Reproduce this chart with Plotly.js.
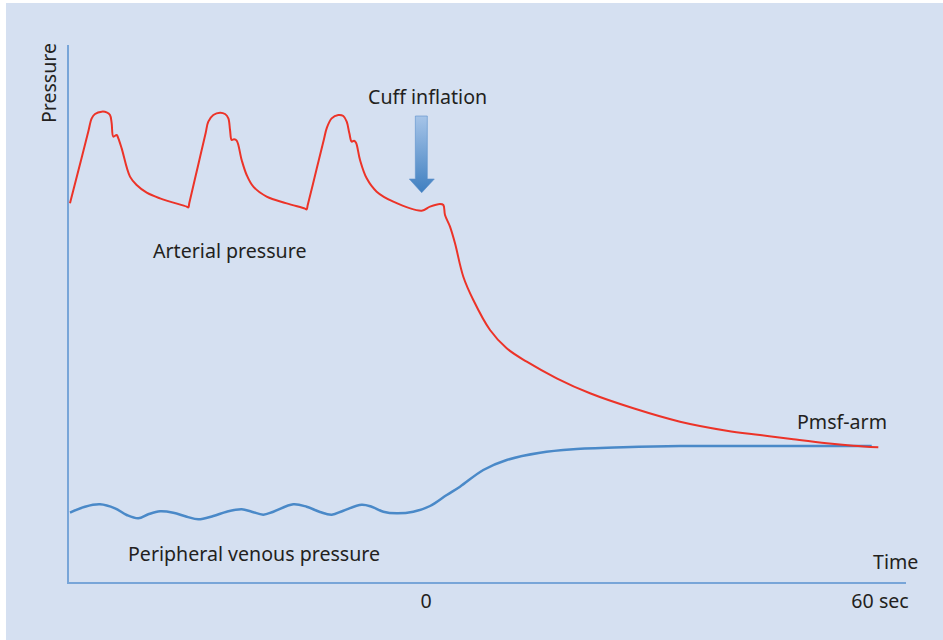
<!DOCTYPE html>
<html>
<head>
<meta charset="utf-8">
<script src="https://cdn.plot.ly/plotly-3.0.1.min.js"></script>
<style>html,body{margin:0;padding:0;background:#fff;}#chart{width:943px;height:640px;}</style>
</head>
<body>
<div id="chart"></div>
<script>
// Time (s) relative to cuff inflation, pressure in arbitrary units
var arterialTime = [
  -47.05,-45.61,-44.62,-44.18,-43.74,-42.86,-42.20,-41.76,-41.54,-41.32,-40.88,-40.66,-40.22,-39.12,-38.24,-36.91,-35.15,-31.63,-31.41,
  -31.28,-30.09,-29.12,-28.77,-28.11,-27.22,-26.56,-26.12,-25.90,-25.68,-25.37,-25.02,-24.36,-23.70,-22.82,-21.06,-18.41,-15.99,-15.77,
  -15.64,-14.45,-13.48,-13.13,-12.47,-11.59,-10.93,-10.48,-10.13,-9.82,-9.51,-9.25,-8.72,-7.84,-6.52,-4.32,-0.57,
  0.53,1.85,2.29,2.51,3.17,3.83,4.93,6.25,8.46,10.66,13.31,17.27,21.67,27.4,33.57,39.74,44.14,48.54,52.95,56.47,59.77];
var arterialPressure = [
  75.73,84.23,90.13,92.73,93.6,94.07,93.93,93.4,91.73,89.07,89.4,88.73,86.73,81.07,79.4,77.87,76.73,75.07,74.93,
  75.8,83.5,89.8,92.07,93.4,93.87,93.6,92.73,90.4,88.4,88.53,88.27,84.4,81.4,79.07,77.07,75.73,74.67,74.53,
  75.33,82.63,88.6,90.73,92.73,93.4,93.2,92.07,89.73,88.07,88.27,87.87,84.4,80.73,78.07,76.07,74.27,
  75.07,75.6,75.4,73.4,71.06,67.74,61.06,56.4,50.4,46.74,44.06,40.74,37.74,34.74,32.06,30.26,29.4,28.54,27.74,27.26,26.94];
var venousTime = [-47.05,-45.07,-43.08,-41.1,-39.55,-38.02,-36.7,-35.15,-33.4,-31.62,-30.09,-28.11,-26.34,-24.36,-23.03,-21.5,-20.18,
  -17.54,-15.77,-14.01,-12.46,-10.93,-8.5,-7.18,-5.64,-3.87,-1.68,0.53,2.74,4.49,7.57,10.66,15.07,19.47,26.07,33.57,45.6,58.9];
var venousPressure = [13.86,15.06,15.54,14.74,13.4,12.74,13.54,14.14,13.86,13.06,12.54,13.2,14.06,14.54,14.06,13.46,14.06,
  15.54,15.06,14.0,13.46,14.26,15.46,15.06,14.06,13.74,14.06,15.2,17.4,19.06,22.4,24.4,25.86,26.54,26.94,27.2,27.2,27.2];
var tickValues = [0, 60];
var tickLabels = ['0', '60 sec'];
// Cuff-inflation arrow outline (annotation decoration)
var cuffArrowX = [-1.41, 0.17, 0.17, 1.10, -0.57, -2.21, -1.41, -1.41];
var cuffArrowY = [93.2, 93.2, 80.6, 80.6, 77.86, 80.6, 80.6, 93.2];

var textFont = {family: 'Noto Sans, sans-serif', size: 19.6, color: '#231f20'};

var traces = [
  {x: venousTime, y: venousPressure, type: 'scatter', mode: 'lines',
   line: {color: '#4a89c8', width: 2.5, shape: 'spline', smoothing: 1}, hoverinfo: 'skip'},
  {x: arterialTime, y: arterialPressure, type: 'scatter', mode: 'lines',
   line: {color: '#ec3328', width: 2, shape: 'spline', smoothing: 1}, hoverinfo: 'skip'},
  {x: cuffArrowX, y: cuffArrowY, type: 'scatter', mode: 'lines', fill: 'toself',
   fillgradient: {type: 'vertical', colorscale: [[0, '#3f7fc0'], [1, '#a6c4e8']]},
   line: {color: '#5a8fcb', width: 0.6}, hoverinfo: 'skip'}
];

var layout = {
  width: 943, height: 640,
  margin: {l: 69, r: 37, t: 45, b: 58},
  paper_bgcolor: '#d5e0f1', plot_bgcolor: '#d5e0f1',
  showlegend: false,
  font: textFont,
  xaxis: {range: [-47.18, 63.43], showgrid: false, zeroline: false, showline: true,
    linecolor: '#78a5d8', linewidth: 2, ticks: '', tickvals: tickValues, ticktext: tickLabels,
    tickfont: textFont, fixedrange: true},
  yaxis: {range: [0, 107.4], showgrid: false, zeroline: false, showline: true,
    linecolor: '#78a5d8', linewidth: 2, ticks: '', showticklabels: false, fixedrange: true},
  shapes: [
    {type: 'rect', xref: 'paper', yref: 'paper', x0: -0.0824, x1: -0.0753, y0: -0.108, y1: 1.0838,
     fillcolor: '#ffffff', line: {width: 0}, layer: 'below'},
    {type: 'rect', xref: 'paper', yref: 'paper', x0: -0.0824, x1: 1.05, y0: 1.0782, y1: 1.0838,
     fillcolor: '#ffffff', line: {width: 0}, layer: 'below'}
  ],
  annotations: [
    {text: 'Cuff inflation', x: 0.26, y: 97.2, xref: 'x', yref: 'y', showarrow: false, font: textFont},
    {text: 'Arterial pressure', x: -26.03, y: 66.4, xref: 'x', yref: 'y', showarrow: false, font: textFont},
    {text: 'Peripheral venous pressure', x: -22.73, y: 5.8, xref: 'x', yref: 'y', showarrow: false, font: textFont},
    {text: 'Pmsf-arm', x: 55.0, y: 32.1, xref: 'x', yref: 'y', showarrow: false, font: textFont},
    {text: 'Time', x: 0.987, y: 0.039, xref: 'paper', yref: 'paper', xanchor: 'center', yanchor: 'middle', showarrow: false, font: textFont},
    {text: 'Pressure', x: -0.0251, y: 0.929, xref: 'paper', yref: 'paper', xanchor: 'center', yanchor: 'middle', showarrow: false, textangle: -90, font: textFont}
  ]
};

Plotly.newPlot('chart', traces, layout, {displayModeBar: false, staticPlot: true});
</script>
</body>
</html>
